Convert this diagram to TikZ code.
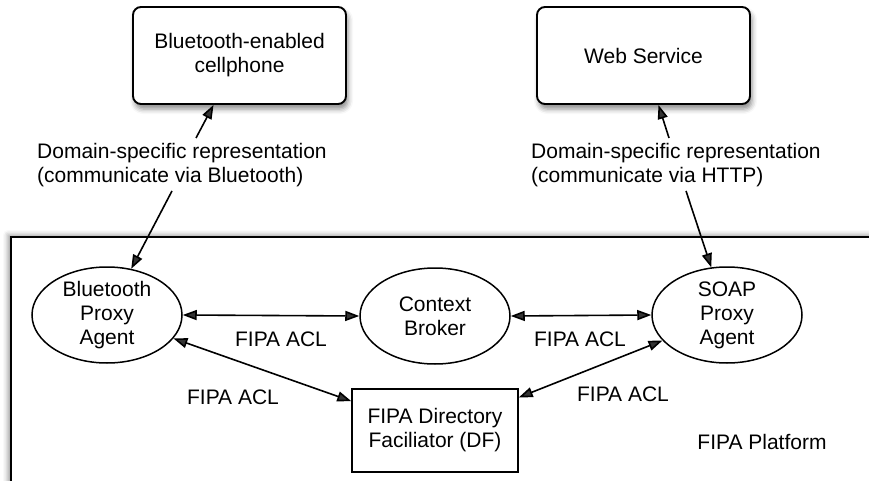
\documentclass[tikz,border=0pt]{standalone}
\usepackage{fontspec}
\setmainfont{Liberation Sans}
\usetikzlibrary{arrows.meta,shapes.geometric,shadows.blur,calc}

\tikzset{
  txt/.style={font=\fontsize{21}{24}\selectfont, inner sep=0pt},
  device/.style={txt, draw, line width=1.9pt, rounded corners=8pt, fill=white,
    minimum width=213pt, minimum height=97pt, align=center,
    blur shadow={shadow xshift=2pt, shadow yshift=-5pt, shadow blur radius=5pt, shadow opacity=45}},
  agent/.style={txt, draw, line width=1.5pt, ellipse, fill=white,
    minimum width=150pt, minimum height=96pt, align=center},
  registry/.style={txt, draw, line width=1.5pt, fill=white,
    minimum width=166pt, minimum height=83pt, align=center},
  link/.style={line width=1.6pt, -{Triangle[length=14pt,width=10pt]}},
  duplex/.style={line width=1.6pt, {Triangle[length=14pt,width=10pt]}-{Triangle[length=14pt,width=10pt]}},
}

\begin{document}
\begin{tikzpicture}[x=1pt, y=-1pt]
\useasboundingbox (0,0) rectangle (869,481);

% platform frame, running off the right and bottom edges
\draw[line width=1.9pt, fill=white,
  blur shadow={shadow xshift=-3pt, shadow yshift=2pt, shadow blur radius=5pt, shadow opacity=40}]
  (11,237) rectangle (900,520);

% external endpoints
\node[device] (cell) at (239.5,55.5) {Bluetooth-enabled\\cellphone};
\node[device] (web) at (643.5,55.5) {Web Service};

% transport descriptions
\node[txt, align=left, anchor=north west] (btlab) at (37,143)
  {Domain-specific representation\\(communicate via Bluetooth)};
\node[txt, align=left, anchor=north west] (httplab) at (531,143)
  {Domain-specific representation\\(communicate via HTTP)};

% agents inside the platform
\node[agent] (bt) at (107,315) {Bluetooth\\Proxy\\Agent};
\node[agent] (cb) at (435,316) {Context\\Broker};
\node[agent] (soap) at (727,315) {SOAP\\Proxy\\Agent};
\node[registry] (df) at (435,430.5) {FIPA Directory\\Faciliator (DF)};

% message labels
\node[txt] (acl1) at (281,339) {FIPA ACL};
\node[txt] (acl2) at (580,339) {FIPA ACL};
\node[txt] (acl3) at (233,397) {FIPA ACL};
\node[txt] (acl4) at (623,394) {FIPA ACL};
\node[txt] (plat) at (762,442) {FIPA Platform};

% links to the outside world
\coordinate (btup) at ($(btlab.north west)+(159,-5)$);
\coordinate (btdown) at ($(btlab.south west)+(135,4)$);
\coordinate (httpup) at ($(httplab.north west)+(138,-5)$);
\coordinate (httpdown) at ($(httplab.south west)+(155,4)$);
\draw[link] (btup) -- ([xshift=-26pt]cell.south);
\draw[link] (btdown) -- (bt);
\draw[link] (httpup) -- ([xshift=15pt]web.south);
\draw[link] (httpdown) -- (soap);

% ACL exchanges
\draw[duplex] (bt.east) -- (cb.west);
\draw[duplex] (cb.east) -- (soap.west);
\draw[duplex] (bt) -- (df);
\draw[duplex] (soap) -- (df);
\end{tikzpicture}
\end{document}
